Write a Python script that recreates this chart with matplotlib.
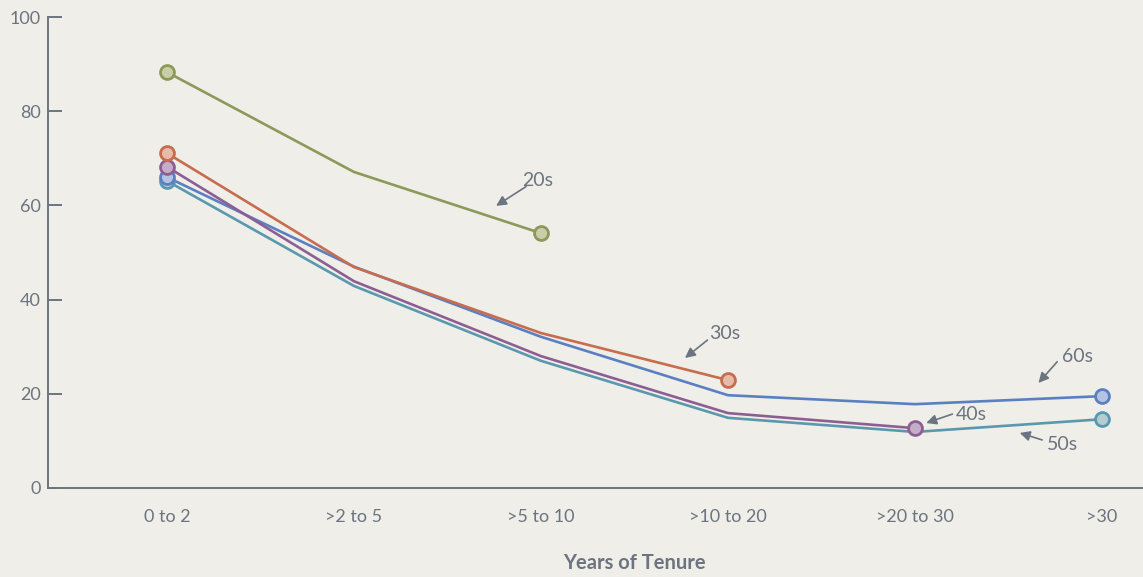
import matplotlib
matplotlib.use("Agg")
import matplotlib.pyplot as plt

# data
tenure = ["0 to 2", ">2 to 5", ">5 to 10", ">10 to 20", ">20 to 30", ">30"]
s20 = [88.3, 67.1, 54.1]
s30 = [71.1, 46.9, 32.9, 22.9]
s40 = [68.2, 43.9, 28.0, 15.9, 12.7]
s50 = [65.2, 42.9, 27.0, 14.9, 11.9, 14.6]
s60 = [66.0, 47.0, 32.1, 19.7, 17.8, 19.5]

bg = "#efeee8"
txt = "#6b7480"

# (values, line colour, marker fill, z-order)
series = [
    (s50, "#5a98ae", "#b6ccd3", 2),
    (s60, "#5a80c2", "#b5c3e2", 3),
    (s40, "#8d5e93", "#c6adc7", 4),
    (s30, "#c86c4f", "#e6bba9", 5),
    (s20, "#8b9a5a", "#cbcda8", 6),
]

plt.rcParams['font.family'] = ['Lato', 'DejaVu Sans']

fig = plt.figure(figsize=(11.43, 5.77), dpi=100, facecolor=bg)
ax = fig.add_axes([48/1143, 1-488/577, 1-48/1143, (488-17)/577])
ax.set_facecolor(bg)

for vals, col, fill, z in series:
    x = list(range(len(vals)))
    ax.plot(x, vals, color=col, lw=1.9, zorder=z, solid_capstyle='round')
    ax.plot([x[0], x[-1]], [vals[0], vals[-1]], 'o', ms=10, mfc=fill, mec=col,
            mew=2, zorder=z + 10)

ax.set_xlim(-0.636, 5.219)
ax.set_ylim(0, 100)
ax.set_yticks([0, 20, 40, 60, 80, 100])
ax.set_xticks(range(len(tenure)))
ax.set_xticklabels(tenure)

for side in ['top', 'right']:
    ax.spines[side].set_visible(False)
for side in ['left', 'bottom']:
    ax.spines[side].set_color(txt)
    ax.spines[side].set_linewidth(1.4)
    ax.spines[side].set_clip_on(False)

ax.tick_params(axis='y', direction='in', length=10, width=1.4, color=txt,
               labelcolor=txt, labelsize=13, pad=5)
ax.tick_params(axis='x', length=0, labelcolor=txt, labelsize=13, pad=15)

ax.text(2.5, -0.16, "Years of Tenure", transform=ax.get_xaxis_transform(),
        ha='center', va='center', fontsize=14.5, fontweight='bold', color=txt)

# labels with little arrows
labels = [
    ("20s", (1.98, 65.2), (1.92, 64.0), (1.76, 59.9)),
    ("30s", (2.98, 32.7), (2.89, 31.4), (2.77, 27.6)),
    ("60s", (4.87, 28.0), (4.76, 26.8), (4.66, 22.3)),
    ("40s", (4.30, 15.7), (4.20, 15.7), (4.06, 13.8)),
    ("50s", (4.79, 9.3), (4.68, 10.2), (4.56, 11.7)),
]
for name, tpos, tail, head in labels:
    ax.text(tpos[0], tpos[1], name, ha='center', va='center', fontsize=14,
            color=txt)
    ax.annotate('', xy=head, xytext=tail,
                arrowprops=dict(arrowstyle='-|>,head_length=0.6,head_width=0.3',
                                color=txt, lw=1.2, shrinkA=0, shrinkB=0))

fig.savefig("out.png", dpi=100, facecolor=bg)
